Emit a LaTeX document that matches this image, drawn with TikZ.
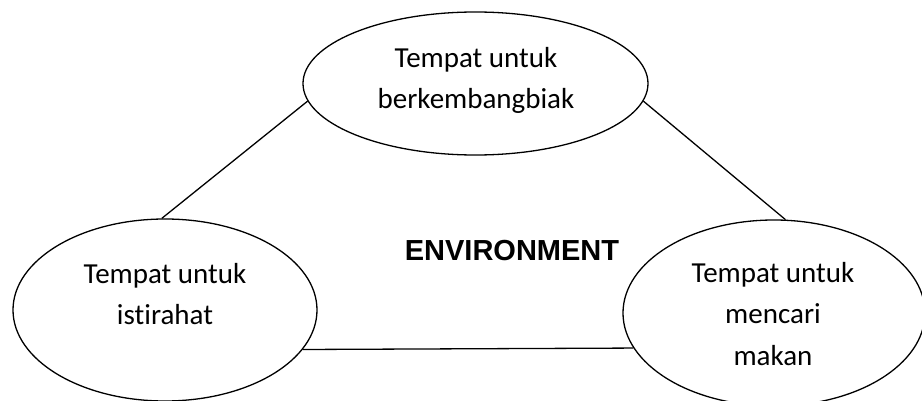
\documentclass[tikz,border=0pt]{standalone}
\usepackage{fontspec}
\setmainfont{Carlito}[RawFeature=-liga]
\newfontfamily\arialb{Liberation Sans}
\usetikzlibrary{shapes.geometric}
\tikzset{
  oval/.style={draw, ellipse, inner sep=0pt, line width=1.3pt},
  txt/.style={align=center, inner sep=0pt, font=\fontsize{29}{41.5}\selectfont},
  link/.style={line width=1.3pt},
  title/.style={inner sep=0pt, font=\arialb\bfseries\fontsize{29}{34}\selectfont}
}
\begin{document}
\begin{tikzpicture}[x=1pt,y=-1pt]
\useasboundingbox (0,0) rectangle (922,401);
\node[oval, minimum width=345pt, minimum height=143pt] (nTop) at (475.5,83.5) {};
\node[oval, minimum width=304pt, minimum height=182pt] (nLeft) at (165,310) {};
\node[oval, minimum width=302pt, minimum height=186pt] (nRight) at (774,313) {};
\node[txt] (tTop) at (476,80.5) {Tempat untuk\\berkembangbiak};
\node[txt] (tLeft) at (165,294) {Tempat untuk\\istirahat};
\node[txt] (tRight) at (773,314) {Tempat untuk\\mencari\\makan};
\node[title, anchor=base] (env) at (512,261) {ENVIRONMENT};
\draw[link] (nTop.186.45) -- (nLeft.92);
\draw[link] (nTop.-6.1) -- (nRight.83.3);
\draw[link] (nLeft.-16.7) -- (nRight.194.3);
\end{tikzpicture}
\end{document}
